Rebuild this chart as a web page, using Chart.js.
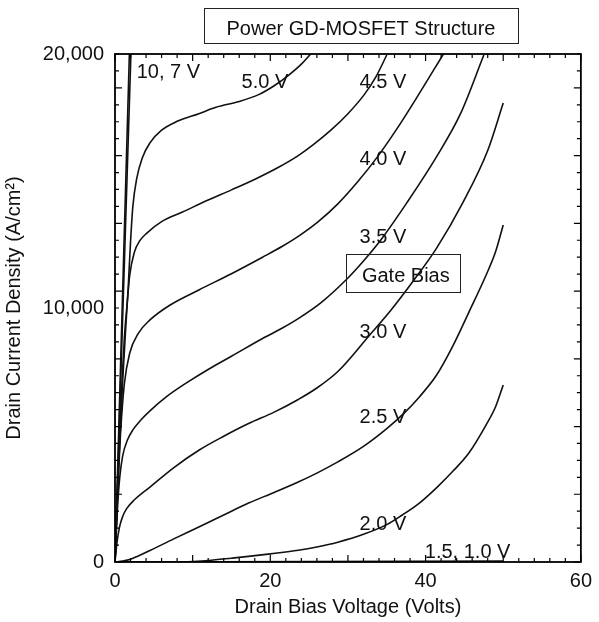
<!DOCTYPE html>
<html>
<head>
<meta charset="utf-8">
<script src="https://cdn.jsdelivr.net/npm/chart.js@4.4.1/dist/chart.umd.min.js"></script>
<style>
  html, body { margin: 0; padding: 0; background: #fff; }
</style>
</head>
<body>
<canvas id="chart" width="599" height="622"></canvas>
<script>
// drain bias (V) / drain current density (A/cm2)
const gate10X = [0, 2.05];
const gate10Y = [0, 20000];
const gate7X = [0, 1.85];
const gate7Y = [0, 20000];
const gate50X = [0, 0.5, 1.0, 1.4, 1.7, 2.0, 2.3, 2.8, 3.5, 4.5, 6, 8, 10.8, 13, 16, 18.5, 20.5, 22.3, 24, 25.2];
const gate50Y = [0, 4000, 7200, 9300, 10800, 12600, 14000, 15100, 15900, 16500, 17000, 17350, 17650, 17900, 18130, 18400, 18750, 19150, 19600, 20000];
const gate45X = [0, 0.4, 0.8, 1.2, 1.6, 1.9, 2.5, 3.2, 4.1, 6, 8.7, 12, 15, 18.1, 21, 23.6, 25.5, 27.8, 30, 32.1, 33.6, 35];
const gate45Y = [0, 3500, 6500, 8800, 10300, 11300, 12200, 12650, 12950, 13400, 13780, 14250, 14650, 15080, 15530, 16000, 16420, 17000, 17650, 18400, 19100, 19960];
const gate40X = [0, 0.3, 0.7, 1.2, 1.9, 3, 4.5, 7, 10.8, 15, 19, 21.5, 23.6, 26.1, 28.7, 31.2, 33.8, 36.3, 38.9, 42.3];
const gate40Y = [0, 2500, 5000, 7000, 8230, 9000, 9530, 10100, 10710, 11350, 12000, 12420, 12820, 13380, 14100, 14950, 15950, 17050, 18300, 20000];
const gate35X = [0, 0.3, 0.6, 1.0, 1.6, 2.3, 3.3, 4.5, 6.6, 9.2, 12.1, 15, 19, 21.5, 23.6, 26.5, 29.9, 32, 34.4, 37.6, 41.4, 44.5, 47.5];
const gate35Y = [0, 2000, 3300, 4200, 4800, 5200, 5580, 5950, 6500, 7050, 7600, 8100, 8800, 9200, 9580, 10200, 11150, 11850, 12750, 14150, 15950, 17650, 19960];
const gate30X = [0, 0.25, 0.6, 1.0, 1.5, 2.5, 4.5, 7.5, 10.8, 14, 17.2, 20.5, 23.6, 26, 28.7, 32.7, 35.5, 38.5, 41.4, 44.8, 48, 50];
const gate30Y = [0, 750, 1400, 1800, 2100, 2450, 2950, 3700, 4400, 4950, 5450, 5900, 6400, 6850, 7500, 8900, 9900, 11100, 12350, 14150, 16200, 18070];
const gate25X = [0, 1, 2, 3, 4.5, 7.5, 10.8, 14, 17.2, 20.5, 23.6, 26, 28.7, 32, 35, 37.2, 39.2, 41.4, 43.5, 45.6, 47.8, 49, 50];
const gate25Y = [0, 40, 110, 240, 450, 900, 1380, 1850, 2320, 2740, 3150, 3500, 3940, 4550, 5250, 5850, 6500, 7350, 8500, 9850, 11300, 12200, 13270];
const gate20X = [9, 12, 15, 17.2, 20, 23.6, 26, 28.7, 32, 35, 37, 39.2, 41.5, 43.6, 45.6, 47.8, 49, 50];
const gate20Y = [0, 60, 150, 220, 320, 460, 590, 780, 1090, 1470, 1850, 2320, 2950, 3600, 4300, 5400, 6100, 6970];
const gate15X = [0, 50];
const gate15Y = [0, 40];
const gate10lowX = [0, 50];
const gate10lowY = [0, 0];

const xTickValues = [0, 20, 40, 60];
const yTickValues = [0, 10000, 20000];

const curves = [
  ['10 V', gate10X, gate10Y],
  ['7 V', gate7X, gate7Y],
  ['5.0 V', gate50X, gate50Y],
  ['4.5 V', gate45X, gate45Y],
  ['4.0 V', gate40X, gate40Y],
  ['3.5 V', gate35X, gate35Y],
  ['3.0 V', gate30X, gate30Y],
  ['2.5 V', gate25X, gate25Y],
  ['2.0 V', gate20X, gate20Y],
  ['1.5 V', gate15X, gate15Y],
  ['1.0 V', gate10lowX, gate10lowY],
];

// curve labels, placed in data units (left edge, baseline)
const notes = [
  ['10, 7 V', 2.8, 19050],
  ['5.0 V', 16.3, 18660],
  ['4.5 V', 31.5, 18660],
  ['4.0 V', 31.5, 15630],
  ['3.5 V', 31.5, 12560],
  ['3.0 V', 31.5, 8820],
  ['2.5 V', 31.5, 5470],
  ['2.0 V', 31.5, 1260],
  ['1.5, 1.0 V', 39.9, 160],
];

const FONT = "'Liberation Sans', Arial, sans-serif";

const frameTicks = {
  id: 'frameTicks',
  afterDatasetsDraw(chart) {
    const { ctx, chartArea: a, scales: { x, y } } = chart;
    ctx.save();
    ctx.strokeStyle = '#000';
    ctx.lineWidth = 1.2;
    ctx.beginPath();
    for (let v = 0; v <= 60; v += 2) {
      const px = x.getPixelForValue(v);
      const len = v % 10 === 0 ? 7 : 4;
      ctx.moveTo(px, a.bottom);
      ctx.lineTo(px, a.bottom - len);
      ctx.moveTo(px, a.top);
      ctx.lineTo(px, a.top + len);
    }
    for (let i = 0; i <= 30; i++) {
      const py = y.getPixelForValue(i * 20000 / 30);
      const len = i % 4 === 0 ? 7 : 4;
      ctx.moveTo(a.left, py);
      ctx.lineTo(a.left + len, py);
      ctx.moveTo(a.right, py);
      ctx.lineTo(a.right - len, py);
    }
    ctx.stroke();
    ctx.lineWidth = 1.8;
    ctx.strokeRect(a.left, a.top, a.width, a.height);
    ctx.restore();
  },
  afterDraw(chart) {
    const { ctx, scales: { x, y } } = chart;
    ctx.save();
    ctx.fillStyle = '#111';
    ctx.strokeStyle = '#222';
    ctx.font = '20px ' + FONT;
    ctx.textBaseline = 'alphabetic';
    ctx.textAlign = 'left';
    notes.forEach(([text, vx, vy]) => {
      ctx.fillText(text, x.getPixelForValue(vx), y.getPixelForValue(vy));
    });

    // Gate Bias box
    const bx1 = x.getPixelForValue(29.8), bx2 = x.getPixelForValue(44.46);
    const by1 = y.getPixelForValue(12130), by2 = y.getPixelForValue(10630);
    ctx.lineWidth = 1;
    ctx.strokeRect(Math.round(bx1) + 0.5, Math.round(by1) + 0.5, Math.round(bx2 - bx1), Math.round(by2 - by1));
    ctx.fillText('Gate Bias', x.getPixelForValue(31.8), y.getPixelForValue(11020));

    // title box
    ctx.strokeRect(204.5, 8.5, 314, 35);
    ctx.textAlign = 'center';
    ctx.fillText('Power GD-MOSFET Structure', 361, 35);
    ctx.restore();
  }
};

new Chart(document.getElementById('chart'), {
  type: 'line',
  data: {
    datasets: curves.map(([label, xs, ys]) => ({
      label,
      data: xs.map((v, i) => ({ x: v, y: ys[i] })),
      borderColor: '#111',
      borderWidth: 1.6,
      pointRadius: 0,
      fill: false,
      cubicInterpolationMode: 'monotone',
    })),
  },
  options: {
    responsive: false,
    animation: false,
    devicePixelRatio: 1,
    layout: {
      padding: { left: 0, top: 54, right: 13, bottom: 0 },
    },
    plugins: {
      legend: { display: false },
      tooltip: { enabled: false },
    },
    scales: {
      x: {
        type: 'linear',
        min: 0,
        max: 60,
        afterBuildTicks(scale) {
          scale.ticks = xTickValues.map(v => ({ value: v }));
        },
        afterFit(scale) {
          scale.height = 60;
        },
        grid: { display: false, drawTicks: false },
        border: { display: false },
        ticks: {
          color: '#111',
          padding: 7,
          maxRotation: 0,
          font: { family: FONT, size: 20 },
        },
        title: {
          display: true,
          text: 'Drain Bias Voltage (Volts)',
          color: '#111',
          padding: { top: 0, bottom: 3 },
          font: { family: FONT, size: 20 },
        },
      },
      y: {
        type: 'linear',
        min: 0,
        max: 20000,
        afterBuildTicks(scale) {
          scale.ticks = yTickValues.map(v => ({ value: v }));
        },
        afterFit(scale) {
          scale.width = 115;
        },
        grid: { display: false, drawTicks: false },
        border: { display: false },
        ticks: {
          color: '#111',
          padding: 11,
          font: { family: FONT, size: 20 },
          callback: v => v.toLocaleString('en-US'),
        },
        title: {
          display: true,
          text: 'Drain Current Density (A/cm²)',
          color: '#111',
          padding: { top: 2, bottom: 0 },
          font: { family: FONT, size: 20 },
        },
      },
    },
  },
  plugins: [frameTicks],
});
</script>
</body>
</html>
